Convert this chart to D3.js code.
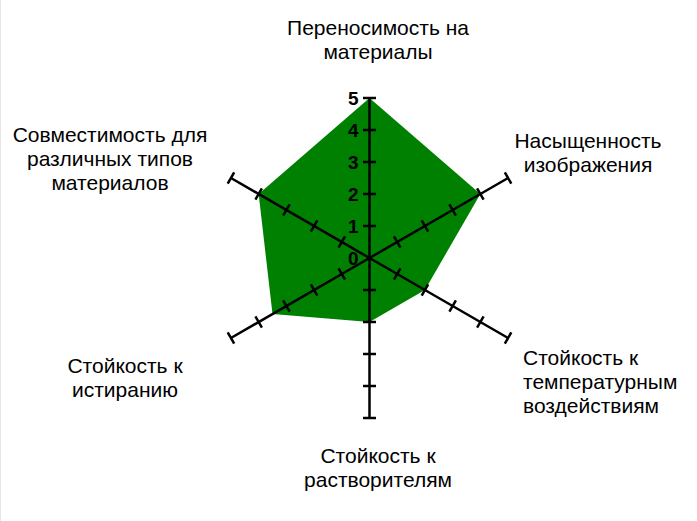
<!DOCTYPE html>
<html>
<head>
<meta charset="utf-8">
<script src="https://cdnjs.cloudflare.com/ajax/libs/d3/7.8.5/d3.min.js"></script>
<style>
  body { margin: 0; background: #fff; }
  svg { display: block; font-family: Arial, "Liberation Sans", sans-serif; }
</style>
</head>
<body>
<div id="content"></div>
<script>
// Criteria, clockwise from the top
var categories = [
    ['Переносимость на', 'материалы'],
    ['Насыщенность', 'изображения'],
    ['Стойкость к', 'температурным', 'воздействиям'],
    ['Стойкость к', 'растворителям'],
    ['Стойкость к', 'истиранию'],
    ['Совместимость для', 'различных типов', 'материалов']
];
var values = [5, 4, 2, 2, 3.5, 4];
var tickValues = [0, 1, 2, 3, 4, 5];

// where each criterion's label sits (x, first baseline, anchor)
var labelSpots = [
    [378, 35, 'middle'],
    [588, 148, 'middle'],
    [523, 365, 'start'],
    [378, 463, 'middle'],
    [125, 373, 'middle'],
    [110, 142, 'middle']
];

var width = 697, height = 521;
var cx = 369.5, cy = 258;

var svg = d3.select('#content').append('svg')
    .attr('width', width)
    .attr('height', height);

// faint frame line on the left
svg.append('line')
    .attr('x1', 0.5).attr('x2', 0.5)
    .attr('y1', 0).attr('y2', height)
    .attr('stroke', '#e6e6e6');

var r = d3.scaleLinear().domain([0, 5]).range([0, 160]);
var angle = d3.scaleLinear().domain([0, categories.length]).range([0, 2 * Math.PI]);

var g = svg.append('g').attr('transform', 'translate(' + cx + ',' + cy + ')');

// the filled area first, axes drawn over it
var radial = d3.lineRadial()
    .angle(function(d, i) { return angle(i); })
    .radius(function(d) { return r(d); })
    .curve(d3.curveLinearClosed);

g.append('path')
    .datum(values)
    .attr('d', radial)
    .attr('fill', '#008000');

// one rotated group per axis; local axis points "up" (negative y)
var axes = g.selectAll('.axis')
    .data(categories)
    .enter().append('g')
    .attr('class', 'axis')
    .attr('transform', function(d, i) { return 'rotate(' + (angle(i) * 180 / Math.PI) + ')'; });

axes.append('line')
    .attr('x1', 0).attr('y1', 0)
    .attr('x2', 0).attr('y2', -r(5))
    .attr('stroke', '#000')
    .attr('stroke-width', 2.5);

axes.selectAll('.tick')
    .data(tickValues.slice(1))
    .enter().append('line')
    .attr('class', 'tick')
    .attr('x1', -6.5).attr('x2', 6.5)
    .attr('y1', function(d) { return -r(d); })
    .attr('y2', function(d) { return -r(d); })
    .attr('stroke', '#000')
    .attr('stroke-width', 2.5);

// numbers only on the top axis
g.selectAll('.num')
    .data(tickValues)
    .enter().append('text')
    .attr('class', 'num')
    .attr('x', -11)
    .attr('y', function(d) { return -r(d); })
    .attr('dy', '0.35em')
    .attr('text-anchor', 'end')
    .attr('font-size', 19)
    .attr('font-weight', 'bold')
    .text(function(d) { return d; });

// criterion labels
var labels = svg.selectAll('.label')
    .data(categories)
    .enter().append('text')
    .attr('class', 'label')
    .attr('font-size', 21)
    .attr('fill', '#000')
    .attr('text-anchor', function(d, i) { return labelSpots[i][2]; });

labels.selectAll('tspan')
    .data(function(d, i) { return d.map(function(t) { return { t: t, i: i }; }); })
    .enter().append('tspan')
    .attr('x', function(d) { return labelSpots[d.i][0]; })
    .attr('y', function(d, j) { return labelSpots[d.i][1] + j * 24; })
    .text(function(d) { return d.t; });
</script>
</body>
</html>
